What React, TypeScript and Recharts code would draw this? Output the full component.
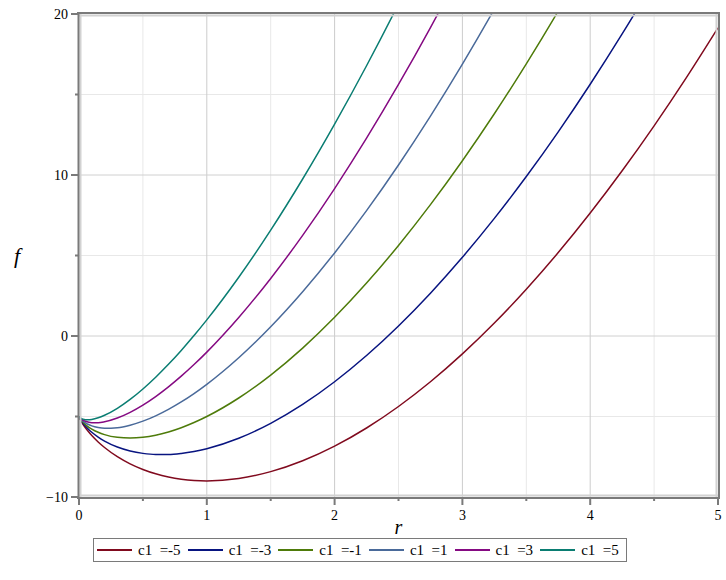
import React from 'react';
import { LineChart, Line, XAxis, YAxis, CartesianGrid, ReferenceLine, Legend } from 'recharts';

const rValues = [0, 0.005, 0.01, 0.02, 0.03, 0.05, 0.07, 0.1, 0.15, 0.2, 0.3, 0.4, 0.5, 0.6, 0.7, 0.8, 0.9, 1, 1.25, 1.5, 1.75, 2, 2.25, 2.5, 2.75, 3, 3.25, 3.5, 3.75, 4, 4.25, 4.5, 4.75, 5];

const fM5 = [-5, -5.105, -5.188, -5.334, -5.465, -5.697, -5.904, -6.181, -6.581, -6.926, -7.494, -7.94, -8.29, -8.56, -8.759, -8.896, -8.975, -9, -8.851, -8.425, -7.75, -6.841, -5.714, -4.378, -2.842, -1.113, 0.804, 2.904, 5.182, 7.636, 10.261, 13.055, 16.016, 19.142];
const fM3 = [-5, -5.095, -5.168, -5.294, -5.405, -5.597, -5.764, -5.981, -6.281, -6.526, -6.894, -7.14, -7.29, -7.36, -7.359, -7.296, -7.175, -7, -6.351, -5.425, -4.25, -2.841, -1.214, 0.622, 2.658, 4.888, 7.304, 9.904, 12.682, 15.636, 18.761, 22.055, 25.516, 29.142];
const fM1 = [-5, -5.085, -5.148, -5.254, -5.345, -5.497, -5.624, -5.781, -5.981, -6.126, -6.294, -6.34, -6.29, -6.16, -5.959, -5.696, -5.375, -5, -3.851, -2.425, -0.75, 1.159, 3.286, 5.622, 8.158, 10.888, 13.804, 16.904, 20.182, 23.636, 27.261, 31.055, 35.016, 39.142];
const fP1 = [-5, -5.075, -5.128, -5.214, -5.285, -5.397, -5.484, -5.581, -5.681, -5.726, -5.694, -5.54, -5.29, -4.96, -4.559, -4.096, -3.575, -3, -1.351, 0.575, 2.751, 5.159, 7.786, 10.622, 13.658, 16.888, 20.304, 23.904, 27.682, 31.636, 35.761, 40.055, 44.516, 49.142];
const fP3 = [-5, -5.065, -5.108, -5.174, -5.225, -5.297, -5.344, -5.381, -5.381, -5.326, -5.094, -4.74, -4.29, -3.76, -3.159, -2.496, -1.775, -1, 1.149, 3.575, 6.251, 9.159, 12.286, 15.622, 19.158, 22.888, 26.804, 30.904, 35.182, 39.636, 44.261, 49.055, 54.016, 59.142];
const fP5 = [-5, -5.055, -5.088, -5.134, -5.165, -5.197, -5.204, -5.181, -5.081, -4.926, -4.494, -3.94, -3.29, -2.56, -1.759, -0.896, 0.026, 1, 3.649, 6.575, 9.751, 13.159, 16.786, 20.622, 24.658, 28.888, 33.304, 37.904, 42.682, 47.636, 52.761, 58.055, 63.516, 69.142];

const seriesLabels = ['c1  =-5', 'c1  =-3', 'c1  =-1', 'c1  =1', 'c1  =3', 'c1  =5'];
const seriesKeys = ['m5', 'm3', 'm1', 'p1', 'p3', 'p5'];
const seriesValues = [fM5, fM3, fM1, fP1, fP3, fP5];
const seriesColors = ['#800A1E', '#081480', '#4E7B0A', '#4A6A9A', '#850A82', '#0A7D72'];

const xTicks = [0, 0.5, 1, 1.5, 2, 2.5, 3, 3.5, 4, 4.5, 5];
const yTicks = [-10, -5, 0, 5, 10, 15, 20];
const xMajorGrid = [1, 2, 3, 4];
const xMinorGrid = [0.5, 1.5, 2.5, 3.5, 4.5];
const yMajorGrid = [0, 10];
const yMinorGrid = [-5, 5, 15];

const data = rValues.map((r, i) => {
  const row: any = { r };
  seriesKeys.forEach((k, j) => { row[k] = seriesValues[j][i]; });
  return row;
});

const FONT = 'Liberation Serif';
const AXIS_DARK = '#7a7a7a';
const AXIS_LIGHT = '#d2d2d2';

const XTick = (props: any) => {
  const { x, y, payload } = props;
  const v = payload.value;
  const major = Number.isInteger(v);
  return (
    <g>
      <line x1={x} y1={y} x2={x} y2={y + (major ? 8 : 4)} stroke={AXIS_DARK} strokeWidth={2} />
      {major && (
        <text x={x} y={y + 23} textAnchor="middle" fontFamily={FONT} fontSize={14} fill="#000">{String(v)}</text>
      )}
    </g>
  );
};

const YTick = (props: any) => {
  const { x, y, payload } = props;
  const v = payload.value;
  const major = v % 10 === 0;
  return (
    <g>
      <line x1={x} y1={y} x2={x - (major ? 8 : 4)} y2={y} stroke={AXIS_DARK} strokeWidth={2} />
      {major && (
        <text x={x - 11} y={y} dy="0.35em" textAnchor="end" fontFamily={FONT} fontSize={14} fill="#000">
          {String(v).replace('-', '\u2212')}
        </text>
      )}
    </g>
  );
};

const YLabel = (props: any) => {
  const vb = props.viewBox || { x: 0, y: 14, width: 79, height: 483 };
  return (
    <text x={vb.x + 14} y={vb.y + vb.height / 2} dy="0.35em" fontFamily={FONT} fontStyle="italic" fontSize={22} fill="#000">f</text>
  );
};

const XLabel = (props: any) => {
  const vb = props.viewBox || { x: 79, y: 497, width: 639, height: 50 };
  return (
    <text x={vb.x + vb.width / 2} y={vb.y + 37} textAnchor="middle" fontFamily={FONT} fontStyle="italic" fontSize={20} fill="#000">r</text>
  );
};

const frameShape = (dx: number, dy: number, color: string, ext: number) => (p: any) => {
  const vertical = Math.abs(p.x1 - p.x2) < 0.01;
  const ya = Math.min(p.y1, p.y2), yb = Math.max(p.y1, p.y2);
  const xa = Math.min(p.x1, p.x2), xb = Math.max(p.x1, p.x2);
  if (vertical) {
    return <line x1={p.x1 + dx} x2={p.x2 + dx} y1={ya - ext} y2={yb + ext} stroke={color} strokeWidth={2} />;
  }
  return <line x1={xa - ext} x2={xb + ext} y1={p.y1 + dy} y2={p.y2 + dy} stroke={color} strokeWidth={2} />;
};

const renderLegend = () => (
  <div
    style={{
      display: 'flex',
      alignItems: 'center',
      border: `1.5px solid ${AXIS_DARK}`,
      height: 24,
      boxSizing: 'border-box',
      paddingLeft: 3,
      background: '#fff',
      fontFamily: FONT,
      fontSize: 15,
      color: '#000',
    }}
  >
    {seriesLabels.map((label, i) => (
      <div key={i} style={{ display: 'flex', alignItems: 'center', marginRight: 7 }}>
        <svg width={35} height={6} style={{ display: 'block' }}>
          <line x1={0} y1={3} x2={35} y2={3} stroke={seriesColors[i]} strokeWidth={2} />
        </svg>
        <span style={{ marginLeft: 6, whiteSpace: 'pre', lineHeight: '18px' }}>{label}</span>
      </div>
    ))}
  </div>
);

export default function App() {
  return (
    <div style={{ position: 'absolute', left: 0, top: 0, background: '#fff' }}>
      <LineChart width={726} height={580} data={data} margin={{ top: 14, right: 8, bottom: 9, left: 0 }}>
        <CartesianGrid stroke="#e8e8e8" verticalValues={xMinorGrid} horizontalValues={yMinorGrid} />
        <CartesianGrid stroke="#cccccc" horizontal={false} verticalValues={xMajorGrid} />
        <CartesianGrid stroke="#d0d0d0" vertical={false} horizontalValues={yMajorGrid} />
        <XAxis
          dataKey="r"
          type="number"
          domain={[0, 5]}
          ticks={xTicks}
          interval={0}
          height={50}
          axisLine={false}
          tickLine={false}
          tickSize={0}
          tickMargin={0}
          tick={<XTick />}
          label={<XLabel />}
        />
        <YAxis
          type="number"
          domain={[-10, 20]}
          allowDataOverflow
          ticks={yTicks}
          interval={0}
          width={79}
          axisLine={false}
          tickLine={false}
          tickSize={0}
          tickMargin={0}
          tick={<YTick />}
          label={<YLabel />}
        />
        {seriesKeys.map((k, j) => (
          <Line
            key={k}
            dataKey={k}
            name={seriesLabels[j]}
            stroke={seriesColors[j]}
            strokeWidth={1.5}
            dot={false}
            activeDot={false}
            type="monotone"
            isAnimationActive={false}
          />
        ))}
        <ReferenceLine x={0} shape={frameShape(1.5, 0, AXIS_LIGHT, 0)} />
        <ReferenceLine x={5} shape={frameShape(-1.5, 0, AXIS_LIGHT, 0)} />
        <ReferenceLine y={20} shape={frameShape(0, 1.5, AXIS_LIGHT, 0)} />
        <ReferenceLine y={-10} shape={frameShape(0, -1.5, AXIS_LIGHT, 0)} />
        <ReferenceLine x={0} shape={frameShape(-0.5, 0, AXIS_DARK, 2)} />
        <ReferenceLine x={5} shape={frameShape(1, 0, AXIS_DARK, 2)} />
        <ReferenceLine y={20} shape={frameShape(0, -1, AXIS_DARK, 2)} />
        <ReferenceLine y={-10} shape={frameShape(0, 1, AXIS_DARK, 2)} />
        <Legend
          verticalAlign="bottom"
          content={renderLegend}
          wrapperStyle={{ left: 93, bottom: 18, width: 'auto' }}
        />
      </LineChart>
    </div>
  );
}
